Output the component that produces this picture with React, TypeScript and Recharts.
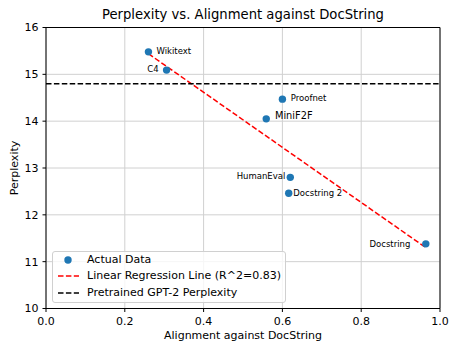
import React from 'react';
import { ScatterChart, Scatter, XAxis, YAxis, CartesianGrid, ReferenceLine } from 'recharts';

const names = ['Wikitext', 'C4', 'Proofnet', 'MiniF2F', 'HumanEval', 'Docstring 2', 'Docstring'];
const alignment = [0.26, 0.306, 0.6, 0.559, 0.62, 0.616, 0.964];
const perplexity = [15.48, 15.09, 14.47, 14.05, 12.8, 12.46, 11.38];
const regressionX = [0.26, 0.964];
const regressionY = [15.44, 11.3];
const pretrainedPerplexity = 14.8;
const xTicks = [0, 0.2, 0.4, 0.6, 0.8, 1.0];
const yTicks = [10, 11, 12, 13, 14, 15, 16];
const legendLabels = ['Actual Data', 'Linear Regression Line (R^2=0.83)', 'Pretrained GPT-2 Perplexity'];

const data = names.map((n, i) => ({ name: n, x: alignment[i], y: perplexity[i] }));

const FONT = '"DejaVu Sans", sans-serif';
const BLUE = '#1f77b4';
const BASE = 11;

const labelPlacement: Record<string, { dx: number; dy: number; anchor: 'start' | 'end'; size: number }> = {
  Wikitext: { dx: 8, dy: -1, anchor: 'start', size: 8.5 },
  C4: { dx: -8, dy: -1.4, anchor: 'end', size: 8.5 },
  Proofnet: { dx: 8.4, dy: -1, anchor: 'start', size: 8.5 },
  MiniF2F: { dx: 8.7, dy: -3.6, anchor: 'start', size: 9.8 },
  HumanEval: { dx: -5, dy: -1.3, anchor: 'end', size: 8.5 },
  'Docstring 2': { dx: 4.6, dy: 0, anchor: 'start', size: 8.5 },
  Docstring: { dx: -15.5, dy: 0, anchor: 'end', size: 8.5 },
};

const PointShape = (props: any) => {
  const { cx, cy, payload } = props;
  const p = labelPlacement[payload.name];
  return (
    <g>
      <circle cx={cx} cy={cy} r={3.7} fill={BLUE} />
      <text
        x={cx + p.dx}
        y={cy + p.dy}
        textAnchor={p.anchor}
        dominantBaseline="central"
        fontFamily={FONT}
        fontSize={p.size}
        fill="#000"
      >
        {payload.name}
      </text>
    </g>
  );
};

const LegendBox = () => (
  <div
    style={{
      position: 'absolute',
      left: 52,
      top: 250.5,
      width: 234,
      height: 52,
      border: '1px solid #d0d0d0',
      borderRadius: 3,
      background: 'rgba(255,255,255,0.8)',
      fontFamily: FONT,
      fontSize: BASE,
      color: '#000',
      boxSizing: 'border-box',
    }}
  >
    {legendLabels.map((l, i) => (
      <div key={l} style={{ position: 'absolute', left: 0, top: 8.3 + i * 16.5 - 7, height: 14, width: 233 }}>
        <svg width={30} height={14} style={{ position: 'absolute', left: 0, top: 0 }}>
          {i === 0 && <circle cx={15} cy={7} r={3.7} fill={BLUE} />}
          {i === 1 && <line x1={5} y1={7} x2={26} y2={7} stroke="#ff0000" strokeWidth={1.5} strokeDasharray="5.5 2.4" />}
          {i === 2 && <line x1={5} y1={7} x2={26} y2={7} stroke="#000" strokeWidth={1.5} strokeDasharray="5.5 2.4" />}
        </svg>
        <span style={{ position: 'absolute', left: 34, top: 0, lineHeight: '14px', whiteSpace: 'nowrap' }}>{l}</span>
      </div>
    ))}
  </div>
);

export default function App() {
  return (
    <div style={{ position: 'absolute', left: 0, top: 0, width: 450, height: 344, background: '#fff' }}>
      <ScatterChart width={450} height={344} margin={{ top: 27.5, right: 10, left: 0, bottom: 0 }}>
        <CartesianGrid stroke="#d0d0d0" strokeWidth={1} />
        <XAxis
          type="number"
          dataKey="x"
          domain={[0, 1]}
          ticks={xTicks}
          tickFormatter={(v: number) => v.toFixed(1)}
          height={35.5}
          tickSize={3.5}
          tickMargin={5}
          stroke="#000"
          tick={{ fill: '#000', fontSize: BASE, fontFamily: FONT }}
          allowDataOverflow
        />
        <YAxis
          type="number"
          dataKey="y"
          domain={[10, 16]}
          ticks={yTicks}
          width={46}
          tickSize={3.5}
          tickMargin={4}
          stroke="#000"
          tick={{ fill: '#000', fontSize: BASE, fontFamily: FONT }}
          allowDataOverflow
        />
        <ReferenceLine y={16} stroke="#000" strokeWidth={1} />
        <ReferenceLine x={1} stroke="#000" strokeWidth={1} />
        <Scatter data={data} fill={BLUE} shape={PointShape} isAnimationActive={false} />
        <ReferenceLine
          segment={[
            { x: regressionX[0], y: regressionY[0] },
            { x: regressionX[1], y: regressionY[1] },
          ]}
          stroke="#ff0000"
          strokeWidth={1.5}
          strokeDasharray="5.5 2.4"
        />
        <ReferenceLine y={pretrainedPerplexity} stroke="#000" strokeWidth={1.5} strokeDasharray="5.5 2.4" />
      </ScatterChart>
      <LegendBox />
      <div
        style={{
          position: 'absolute',
          left: 0,
          width: 486,
          top: 6.5,
          textAlign: 'center',
          fontFamily: FONT,
          fontSize: 13.2,
          lineHeight: '16px',
          color: '#000',
          whiteSpace: 'nowrap',
        }}
      >
        Perplexity vs. Alignment against DocString
      </div>
      <div
        style={{
          position: 'absolute',
          left: 0,
          width: 486,
          top: 329,
          textAlign: 'center',
          fontFamily: FONT,
          fontSize: BASE,
          lineHeight: '13px',
          color: '#000',
          whiteSpace: 'nowrap',
        }}
      >
        Alignment against DocString
      </div>
      <div
        style={{
          position: 'absolute',
          left: 14,
          top: 168,
          transform: 'translate(-50%, -50%) rotate(-90deg)',
          fontFamily: FONT,
          fontSize: BASE,
          lineHeight: '13px',
          color: '#000',
          whiteSpace: 'nowrap',
        }}
      >
        Perplexity
      </div>
    </div>
  );
}
